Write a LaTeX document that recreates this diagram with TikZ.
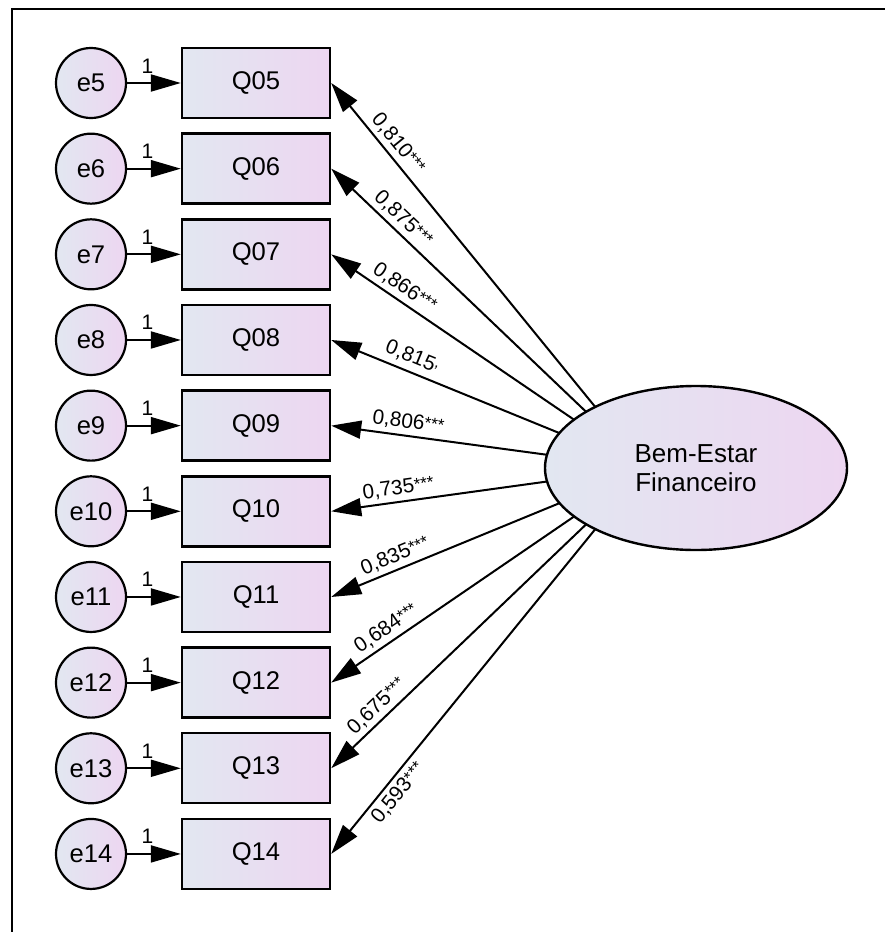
\documentclass[tikz,border=0pt]{standalone}
\usepackage{fontspec}
\setmainfont{Liberation Sans}
\usepackage{xcolor}
\usetikzlibrary{arrows.meta, positioning, shapes.geometric}

\definecolor{shadeL}{RGB}{226,231,241}
\definecolor{shadeR}{RGB}{237,214,241}
\newcommand{\sig}{\raisebox{1pt}{\fontsize{8.5}{8.5}\selectfont***}}

\begin{document}
\begin{tikzpicture}[
    x=0.5pt, y=-0.5pt,
    node distance=42.83pt, on grid,
    item/.style={draw, line width=1.2pt, minimum width=74pt, minimum height=35pt, left color=shadeL, right color=shadeR, font=\fontsize{12.8}{15}\selectfont},
    err/.style={draw, circle, line width=1.1pt, minimum size=35pt, inner sep=0pt, left color=shadeL, right color=shadeR, font=\fontsize{12.8}{15}\selectfont},
    factor/.style={draw, ellipse, line width=1.2pt, minimum width=151pt, minimum height=82pt, align=center, left color=shadeL, right color=shadeR, font=\fontsize{13}{14.5}\selectfont},
    fix/.style={-{Triangle[length=15pt, width=8.5pt]}, line width=1pt},
    load/.style={-{Triangle[length=15pt, width=9pt]}, line width=1pt},
    unit/.style={above=4.5pt, pos=0.38, inner sep=0pt, font=\fontsize{10.5}{12}\selectfont},
    coef/.style={sloped, above, inner sep=2pt, font=\fontsize{10.4}{12}\selectfont},
]

\useasboundingbox (0,0) rectangle (885,932);

% Frame
\draw[line width=1.3pt] (12,932) -- (12,9) -- (885,9);

% Items
\node[item] (q05) at (256,83) {Q05};
\node[item, below=of q05] (q06) {Q06};
\node[item, below=of q06] (q07) {Q07};
\node[item, below=of q07] (q08) {Q08};
\node[item, below=of q08] (q09) {Q09};
\node[item, below=of q09] (q10) {Q10};
\node[item, below=of q10] (q11) {Q11};
\node[item, below=of q11] (q12) {Q12};
\node[item, below=of q12] (q13) {Q13};
\node[item, below=of q13] (q14) {Q14};

% Error terms
\node[err, left=82.5pt of q05] (e5) {e5};
\node[err, left=82.5pt of q06] (e6) {e6};
\node[err, left=82.5pt of q07] (e7) {e7};
\node[err, left=82.5pt of q08] (e8) {e8};
\node[err, left=82.5pt of q09] (e9) {e9};
\node[err, left=82.5pt of q10] (e10) {e10};
\node[err, left=82.5pt of q11] (e11) {e11};
\node[err, left=82.5pt of q12] (e12) {e12};
\node[err, left=82.5pt of q13] (e13) {e13};
\node[err, left=82.5pt of q14] (e14) {e14};

% Error paths
\draw[fix] (e5) -- node[unit] {1} (q05);
\draw[fix] (e6) -- node[unit] {1} (q06);
\draw[fix] (e7) -- node[unit] {1} (q07);
\draw[fix] (e8) -- node[unit] {1} (q08);
\draw[fix] (e9) -- node[unit] {1} (q09);
\draw[fix] (e10) -- node[unit] {1} (q10);
\draw[fix] (e11) -- node[unit] {1} (q11);
\draw[fix] (e12) -- node[unit] {1} (q12);
\draw[fix] (e13) -- node[unit] {1} (q13);
\draw[fix] (e14) -- node[unit] {1} (q14);

% Loadings
\coordinate (hub) at (645,468);
\draw[load] (hub) -- node[coef, pos=0.82] {0,810\sig} (q05.east);
\draw[load] (hub) -- node[coef, pos=0.80] {0,875\sig} (q06.east);
\draw[load] (hub) -- node[coef, pos=0.79] {0,866\sig} (q07.east);
\draw[load] (hub) -- node[coef, pos=0.76] {0,815{\fontsize{8}{8}\selectfont\raisebox{-2pt}{'}}} (q08.east);
\draw[load] (hub) -- node[coef, pos=0.76] {0,806\sig} (q09.east);
\draw[load] (hub) -- node[coef, pos=0.78] {0,735\sig} (q10.east);
\draw[load] (hub) -- node[coef, pos=0.78] {0,835\sig} (q11.east);
\draw[load] (hub) -- node[coef, pos=0.80] {0,684\sig} (q12.east);
\draw[load] (hub) -- node[coef, pos=0.825] {0,675\sig} (q13.east);
\draw[load] (hub) -- node[coef, below, pos=0.82] {0,593\sig} (q14.east);

% Latent factor
\node[factor] (bef) at (696,468) {Bem-Estar\\Financeiro};

\end{tikzpicture}
\end{document}
